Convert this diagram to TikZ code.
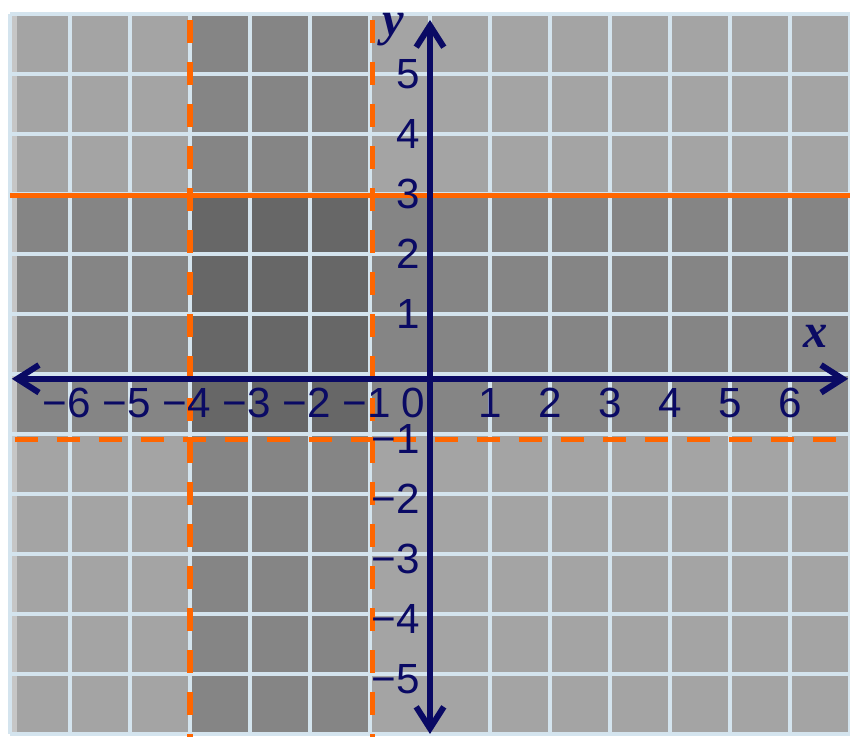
\documentclass[tikz,border=0pt]{standalone}
\usepackage{fontspec}
\setmainfont{Liberation Sans}
\newfontfamily\axisfont{Liberation Serif}
\usetikzlibrary{arrows.meta}
\definecolor{lightg}{HTML}{A4A4A4}
\definecolor{midg}{HTML}{858585}
\definecolor{darkg}{HTML}{676767}
\definecolor{gridc}{HTML}{D4E4EE}
\definecolor{navy}{RGB}{10,10,100}
\definecolor{orng}{HTML}{FF6600}
\begin{document}
\begin{tikzpicture}[x=1cm,y=1cm,
  gridline/.style={draw=gridc,line width=0.055cm},
  axisline/.style={draw=navy,line width=0.1cm,
    arrows={Straight Barb[length=0.36cm,width=0.46cm]-Straight Barb[length=0.36cm,width=0.46cm]}},
  ticklbl/.style={text=navy,font=\fontsize{20}{23}\selectfont,inner sep=0pt},
  axlbl/.style={text=navy,font=\axisfont\bfseries\itshape\fontsize{23}{25}\selectfont,inner sep=0pt},
  bound/.style={draw=orng,line width=0.08cm},
  dbound/.style={draw=orng,line width=0.085cm,dash pattern=on 0.38cm off 0.32cm}]
\useasboundingbox (-7.1667,-6.05) rectangle (7,6.2333);
% shaded regions
\fill[lightg] (-7,-6) rectangle (7,6);
\fill[midg] (-4,-6) rectangle (-1,6);
\fill[midg] (-7,-1.03) rectangle (7,3);
\fill[darkg] (-4,-1.03) rectangle (-1,3);
\fill[gray!45] (-7,-6) rectangle (-6.88,6);
% grid
\draw[gridline] (-7,-6) grid (7,6);
% boundaries
\coordinate (hl) at (-7,2.97);
\coordinate (hr) at (7,2.97);
\draw[bound] (hl) -- (hr);
\coordinate (d1t) at (-4,5.9);
\coordinate (d1b) at (-4,-6.05);
\draw[dbound] (d1t) -- (d1b);
\coordinate (d2t) at (-0.96,5.9);
\coordinate (d2b) at (-0.96,-6.05);
\draw[dbound] (d2t) -- (d2b);
\coordinate (d3l) at (-6.92,-1.09);
\coordinate (d3r) at (7,-1.09);
\draw[dbound] (d3l) -- (d3r);
% axes
\coordinate (xl) at (-6.97,-0.08);
\coordinate (xr) at (6.97,-0.08);
\coordinate (yb) at (0,-6.0);
\coordinate (yt) at (0,5.9);
\draw[axisline] (xl) -- (xr);
\draw[axisline] (yb) -- (yt);
% axis labels
\node[axlbl] (xlab) at (6.42,0.62) {x};
\node[axlbl] (ylab) at (-0.62,5.74) {y};
% tick labels on x axis
\foreach \k/\n in {-6/6,-5/5,-4/4,-3/3,-2/2,-1/1} {
  \node[ticklbl] (xtm\n) at (\k-0.05,-0.48) {−\n};
}
\foreach \k in {1,...,6} {
  \node[ticklbl] (xt\k) at (\k,-0.48) {\k};
}
\node[ticklbl] (x0) at (-0.28,-0.48) {0};
% tick labels on y axis
\foreach \k in {1,...,5} {
  \node[ticklbl,anchor=east] (yt\k) at (-0.16,\k) {\k};
}
\foreach \k/\n in {-5/5,-4/4,-3/3,-2/2,-1/1} {
  \node[ticklbl,anchor=east] (ytm\n) at (-0.16,\k-0.08) {−\n};
}
\end{tikzpicture}
\end{document}
